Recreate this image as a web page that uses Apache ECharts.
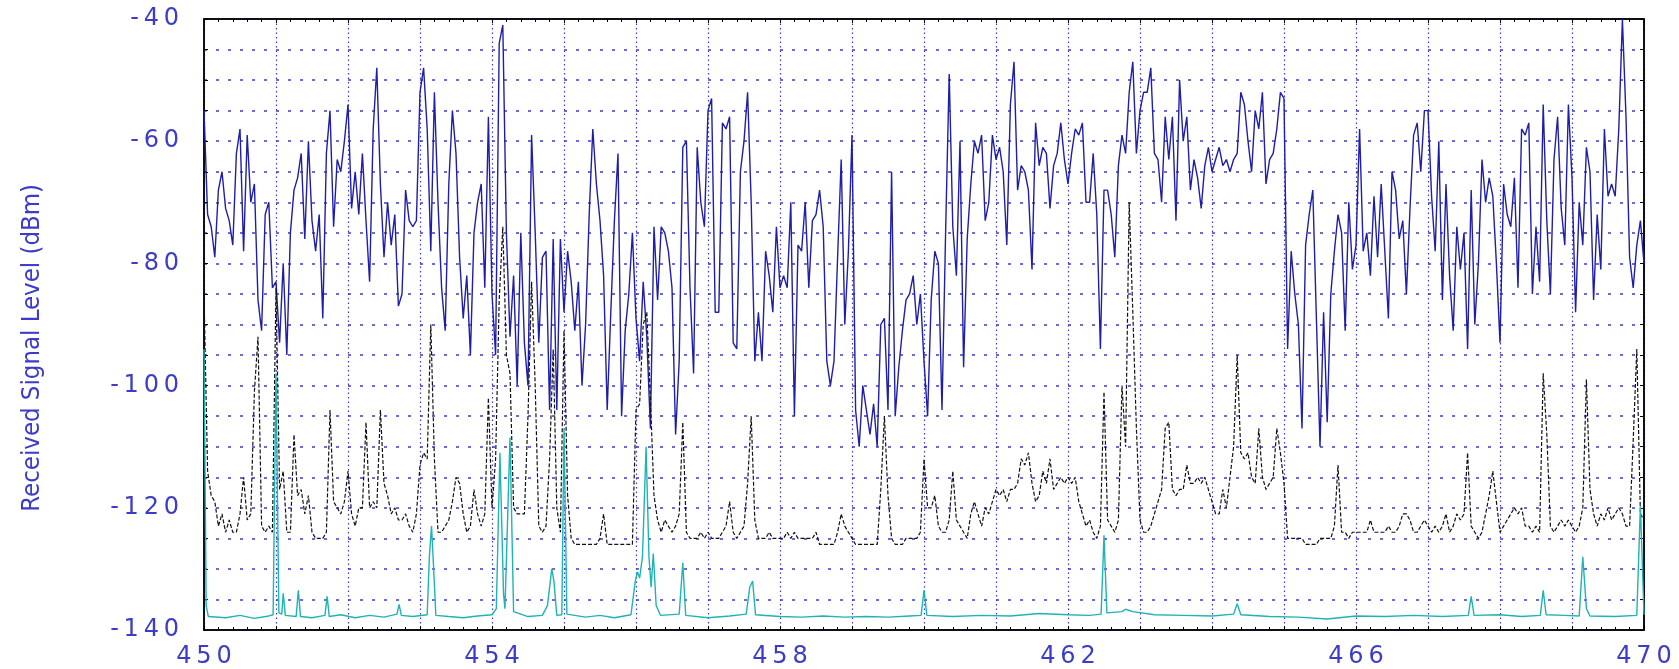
<!DOCTYPE html>
<html>
<head>
<meta charset="utf-8">
<script src="https://cdn.jsdelivr.net/npm/echarts@6/dist/echarts.min.js"></script>
<style>
  html, body { margin: 0; padding: 0; background: #fff; }
  #main { width: 1679px; height: 669px; }
</style>
</head>
<body>
<div id="main"></div>
<script>
// sweep 450 -> 470 MHz, one reading every 0.05 MHz
const freqStart = 450;
const freqStep = 0.05;

// upper trace (blue), dBm
const blueLevel = [
  -55,-72,-74,-79,-68,-65,-71,-73,-77,-62,-58,-78,-59,-70,-67,-86,-91,-72,-70,-84,
  -83,-93,-80,-95,-75,-68,-66,-62,-76,-60,-73,-78,-72,-89,-62,-55,-74,-63,-65,-60,
  -54,-71,-65,-72,-62,-73,-83,-58,-48,-67,-79,-70,-77,-72,-87,-85,-68,-73,-74,-73,
  -52,-48,-58,-78,-52,-70,-84,-91,-67,-55,-62,-79,-89,-82,-95,-75,-70,-67,-84,-56,
  -85,-95,-44,-41,-75,-92,-82,-100,-75,-93,-100,-59,-75,-93,-79,-78,-104,-76,-104,-76,
  -88,-78,-83,-91,-83,-100,-90,-72,-58,-67,-73,-82,-104,-88,-73,-62,-105,-91,-85,-75,
  -89,-96,-83,-92,-107,-74,-86,-74,-75,-78,-84,-108,-96,-61,-60,-84,-98,-61,-70,-74,
  -55,-53,-88,-88,-57,-58,-56,-93,-94,-65,-60,-52,-70,-96,-88,-96,-78,-82,-88,-74,
  -84,-82,-84,-70,-105,-77,-78,-70,-84,-73,-72,-68,-74,-96,-100,-96,-79,-63,-90,-78,
  -59,-104,-110,-100,-104,-108,-103,-110,-90,-89,-104,-65,-105,-97,-91,-86,-85,-82,-90,-85,
  -96,-105,-86,-78,-80,-104,-75,-49,-74,-82,-60,-97,-76,-67,-60,-62,-59,-73,-70,-59,
  -63,-61,-65,-77,-54,-47,-68,-64,-65,-68,-81,-57,-64,-61,-62,-71,-64,-62,-57,-63,
  -67,-62,-58,-59,-57,-70,-70,-62,-72,-94,-68,-68,-72,-79,-64,-59,-62,-52,-47,-62,
  -55,-52,-52,-48,-62,-63,-70,-56,-63,-56,-73,-50,-60,-56,-68,-63,-66,-71,-64,-61,
  -65,-63,-61,-64,-63,-65,-63,-62,-52,-54,-60,-65,-55,-58,-52,-67,-63,-62,-58,-52,
  -53,-94,-78,-85,-90,-107,-77,-72,-68,-89,-110,-88,-106,-85,-78,-72,-75,-91,-70,-81,
  -77,-58,-78,-75,-82,-69,-79,-67,-78,-89,-65,-68,-76,-73,-85,-71,-59,-57,-65,-55,
  -55,-69,-78,-60,-86,-67,-82,-91,-74,-81,-75,-94,-68,-90,-80,-63,-70,-66,-69,-80,
  -93,-67,-72,-74,-66,-84,-58,-59,-57,-85,-74,-83,-54,-73,-85,-63,-56,-71,-77,-54,
  -66,-88,-70,-77,-61,-65,-86,-72,-81,-58,-69,-67,-69,-58,-40,-56,-79,-84,-77,-73,
  -80
];

// middle trace (black dashed), dBm
const blackLevel = [
  -85,-114,-118,-119,-123,-121,-124,-122,-124,-124,-121,-115,-122,-121,-101,-92,-123,-124,-123,-124,
  -84,-117,-114,-124,-124,-108,-118,-117,-121,-118,-124,-125,-125,-125,-124,-104,-119,-120,-121,-119,
  -114,-121,-123,-120,-120,-106,-120,-119,-120,-104,-116,-118,-121,-120,-122,-122,-121,-123,-124,-121,
  -113,-111,-112,-90,-112,-124,-124,-123,-122,-119,-115,-116,-121,-124,-123,-117,-121,-123,-121,-102,
  -120,-112,-86,-74,-95,-98,-120,-121,-121,-121,-105,-83,-100,-123,-124,-123,-112,-94,-120,-124,
  -91,-118,-125,-126,-126,-126,-126,-126,-126,-126,-125,-121,-126,-126,-126,-126,-126,-126,-126,-126,
  -104,-103,-90,-88,-102,-118,-122,-124,-122,-123,-124,-123,-121,-106,-124,-125,-125,-125,-124,-125,
  -124,-125,-125,-125,-124,-123,-119,-124,-125,-124,-123,-116,-105,-122,-125,-125,-125,-124,-125,-125,
  -125,-125,-124,-125,-124,-125,-125,-125,-125,-125,-124,-126,-126,-126,-126,-126,-124,-121,-123,-124,
  -125,-126,-126,-126,-126,-126,-126,-126,-117,-105,-118,-125,-126,-126,-126,-125,-125,-125,-125,-124,
  -112,-120,-120,-118,-123,-124,-124,-122,-114,-122,-123,-124,-125,-121,-119,-121,-123,-120,-121,-119,
  -117,-118,-117,-119,-117,-117,-116,-112,-113,-111,-116,-119,-118,-114,-116,-112,-117,-116,-115,-116,
  -115,-116,-115,-119,-121,-123,-122,-124,-125,-123,-101,-122,-123,-124,-122,-100,-110,-70,-88,-107,
  -122,-124,-124,-123,-121,-119,-117,-107,-106,-117,-118,-117,-117,-113,-116,-116,-115,-116,-115,-117,
  -119,-121,-121,-117,-120,-115,-110,-95,-111,-112,-111,-115,-116,-107,-115,-117,-116,-115,-107,-111,
  -116,-125,-125,-125,-125,-125,-126,-126,-126,-126,-125,-125,-125,-125,-123,-113,-124,-124,-125,-124,
  -124,-124,-124,-124,-122,-124,-124,-124,-124,-123,-124,-124,-123,-121,-121,-122,-124,-124,-123,-122,
  -123,-124,-123,-124,-123,-121,-124,-123,-121,-122,-121,-111,-123,-124,-125,-124,-121,-118,-114,-119,
  -124,-123,-122,-121,-120,-121,-120,-123,-123,-124,-123,-124,-98,-108,-123,-124,-123,-122,-123,-122,
  -123,-124,-123,-120,-99,-117,-121,-123,-121,-122,-120,-122,-121,-120,-121,-123,-123,-109,-94,-121,
  -122
];

// lower trace (cyan): frequency and level of the floor and its narrow peaks
const cyanFreq = [
  450.00,450.03,450.06,450.30,450.50,450.70,450.90,450.96,451.00,451.04,451.08,451.10,451.13,
  451.28,451.31,451.34,451.50,451.68,451.71,451.74,451.90,452.10,452.30,452.50,452.68,452.71,
  452.74,452.90,453.10,453.13,453.16,453.19,453.22,453.40,453.60,453.80,454.00,454.06,454.11,
  454.16,454.18,454.25,454.30,454.50,454.70,454.77,454.83,454.86,454.90,454.97,455.00,455.04,
  455.30,455.50,455.70,455.93,455.99,456.02,456.05,456.09,456.14,456.18,456.21,456.24,456.28,
  456.34,456.60,456.65,456.69,457.00,457.30,457.53,457.58,457.62,457.66,458.00,458.30,458.60,
  458.90,459.20,459.50,459.80,459.96,460.00,460.04,460.40,460.80,461.20,461.60,462.00,462.30,
  462.46,462.50,462.54,462.75,462.80,462.90,463.20,463.60,464.00,464.30,464.35,464.40,464.80,
  465.20,465.60,466.00,466.40,466.80,467.20,467.56,467.60,467.64,468.00,468.30,468.56,468.60,
  468.64,468.90,469.10,469.15,469.20,469.25,469.60,469.90,469.95,470.00
];
const cyanLevel = [
  -94,-136,-137.8,-138,-137.6,-138.1,-137.7,-137.5,-98,-137.2,-137.4,-134,-137.6,
  -137.8,-133.5,-137.8,-138,-137.6,-134.5,-137.8,-137.5,-138,-137.6,-137.9,-137.4,-135.8,
  -137.6,-137.8,-137.5,-128,-123,-130,-137.6,-137.8,-138,-137.7,-137.5,-136.5,-111,
  -134,-136.5,-108.5,-137,-137.8,-137.6,-136,-130,-132,-137.6,-137.5,-107,-137.4,
  -137.9,-137.6,-138,-137.5,-132,-130.5,-131.5,-128,-110,-128,-133,-127.5,-136,
  -137.6,-137.4,-129,-137.6,-138,-137.7,-137.4,-133,-132,-137.5,-137.8,-137.9,-137.7,
  -137.9,-137.8,-137.9,-137.7,-137.6,-133.5,-137.6,-137.8,-137.6,-137.7,-137.3,-137.5,-137.6,
  -137.4,-124.5,-137.2,-137,-136.6,-137,-137.5,-137.6,-137.7,-137.4,-135.7,-137.5,-137.8,
  -137.9,-138.2,-137.7,-137.8,-137.6,-137.8,-137.6,-134.5,-137.6,-137.5,-137.8,-137.6,-133.5,
  -137.5,-137.6,-137.7,-128,-136.5,-137.7,-137.8,-137.6,-119.7,-137.5
];

// axis
const xMin = 450, xMax = 470, xGrid = 1, xLabelEvery = 4;
const yMin = -140, yMax = -40, yGrid = 5, yLabelEvery = 20;

const gridBlue = '#3a3ad0';
const labelBlue = '#3c3cc8';

const spaced = s => String(s).split('').join('\u2009');
const freqAt = i => +(freqStart + i * freqStep).toFixed(2);

const blueData = blueLevel.map((v, i) => [freqAt(i), v]);
const blackData = blackLevel.map((v, i) => [freqAt(i), v]);
const cyanData = cyanFreq.map((f, i) => [f, cyanLevel[i]]);

const chart = echarts.init(document.getElementById('main'));

const option = {
  animation: false,
  grid: {
    left: 204, right: 35, top: 19, bottom: 39,
    show: true, borderColor: '#000', borderWidth: 1.5, backgroundColor: '#fff'
  },
  xAxis: [
    {
      type: 'value', min: xMin, max: xMax, interval: xGrid,
      axisLine: { show: true, lineStyle: { color: '#000', width: 1.5 } },
      axisTick: { show: true, inside: true, length: 4, lineStyle: { color: '#000' } },
      minorTick: { show: true, splitNumber: 5, length: 3, lineStyle: { color: '#000' } },
      axisLabel: {
        color: labelBlue, fontSize: 24, fontFamily: 'DejaVu Sans', margin: 15,
        formatter: v => ((v - xMin) % xLabelEvery === 0 ? spaced(v) : '')
      },
      splitLine: { show: true, lineStyle: { color: gridBlue, width: 1.2, type: [1.5, 3] } }
    },
    {
      type: 'value', min: xMin, max: xMax, interval: xGrid, position: 'top',
      axisLine: { show: true, lineStyle: { color: '#000', width: 1.5 } },
      axisTick: { show: true, inside: true, length: 4, lineStyle: { color: '#000' } },
      minorTick: { show: true, splitNumber: 5, length: 3, lineStyle: { color: '#000' } },
      axisLabel: { show: false },
      splitLine: { show: false }
    }
  ],
  yAxis: [
    {
      type: 'value', min: yMin, max: yMax, interval: yGrid,
      axisLine: { show: true, lineStyle: { color: '#000', width: 1.5 } },
      axisTick: { show: true, inside: true, length: 4, lineStyle: { color: '#000' } },
      axisLabel: {
        color: labelBlue, fontSize: 24, fontFamily: 'DejaVu Sans', margin: 25,
        formatter: v => (v % yLabelEvery === 0 ? spaced(v) : '')
      },
      splitLine: { show: true, lineStyle: { color: gridBlue, width: 1.5, type: [3, 9] } }
    },
    {
      type: 'value', min: yMin, max: yMax, interval: yGrid, position: 'right',
      axisLine: { show: true, lineStyle: { color: '#000', width: 1.5 } },
      axisTick: { show: true, inside: true, length: 4, lineStyle: { color: '#000' } },
      axisLabel: { show: false },
      splitLine: { show: false }
    }
  ],
  graphic: [
    {
      type: 'text', left: 19, top: 184, rotation: Math.PI / 2,
      style: {
        text: 'Received Signal Level (dBm)',
        fill: labelBlue,
        font: '25.5px "Liberation Sans Narrow", "DejaVu Sans Condensed", "DejaVu Sans", sans-serif'
      }
    }
  ],
  series: [
    {
      name: 'signal', type: 'line', data: blueData, showSymbol: false,
      lineStyle: { color: '#1e1ea8', width: 1.4 }
    },
    {
      name: 'noise', type: 'line', data: blackData, showSymbol: false,
      lineStyle: { color: '#111', width: 1.2, type: [4, 2] }
    },
    {
      name: 'floor', type: 'line', data: cyanData, showSymbol: false,
      lineStyle: { color: '#1fb3b3', width: 1.4 }
    }
  ]
};

chart.setOption(option);
</script>
</body>
</html>
